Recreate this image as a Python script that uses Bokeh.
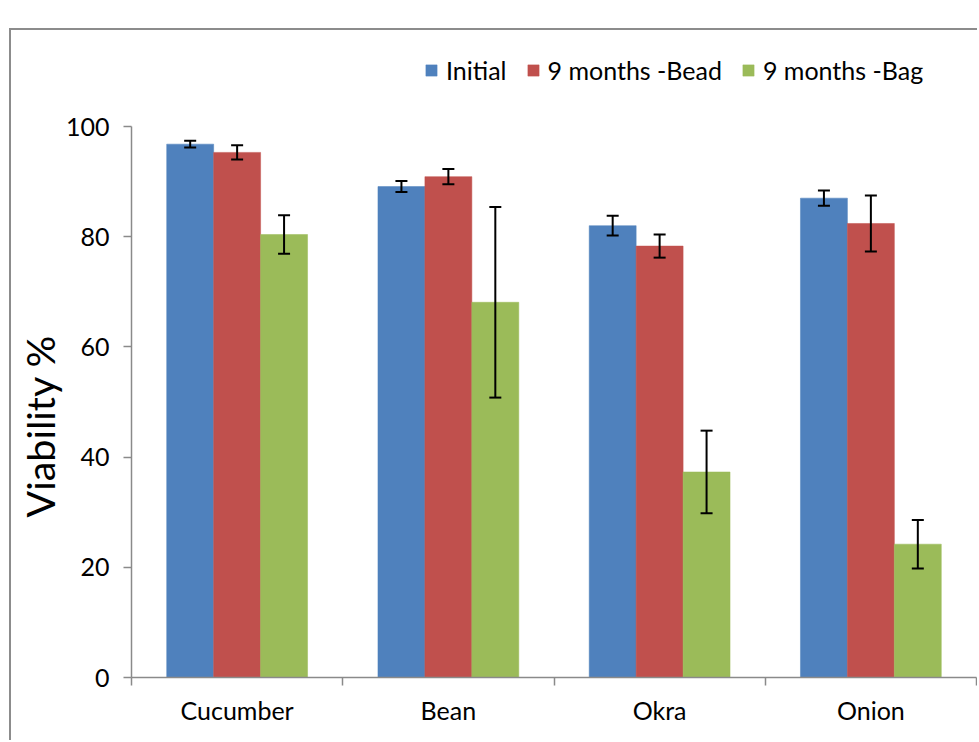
from bokeh.plotting import figure
from bokeh.models import (ColumnDataSource, Range1d, FixedTicker, Whisker, TeeHead, Title)
from bokeh.embed import file_html
from bokeh.resources import INLINE

categories = ["Cucumber", "Bean", "Okra", "Onion"]
series_names = ["Initial", "9 months -Bead", "9 months -Bag"]
initial = [96.8, 89.1, 82.0, 87.0]
initial_err = [0.6, 1.0, 1.8, 1.4]
bead = [95.3, 90.9, 78.3, 82.4]
bead_err = [1.3, 1.4, 2.1, 5.1]
bag = [80.4, 68.1, 37.3, 24.2]
bag_err = [3.5, 17.3, 7.5, 4.4]
y_ticks = [0, 20, 40, 60, 80, 100]
y_title = "Viability %"

colors = ["#4F81BD", "#C0504D", "#9BBB59"]
FONT = "Lato"
BAR_W = 1 / 4.5

# frame extends above the 100 line to host the legend (Excel's legend area)
FRAME_TOP = 10
AXIS_PX = 551          # pixels between 0 and 100
FRAME_H = 647 - FRAME_TOP
y_end = 100 * FRAME_H / AXIS_PX

p = figure(width=968, height=712, output_backend="svg", toolbar_location=None,
           x_range=Range1d(0, len(categories)), y_range=Range1d(0, y_end),
           min_border_left=120, min_border_right=3, min_border_top=FRAME_TOP,
           min_border_bottom=65,
           background_fill_color="white", border_fill_color="white",
           styles={"margin-left": "9px", "margin-top": "28px",
                   "border-left": "2px solid #8c8c8c", "border-top": "2px solid #8c8c8c"})
p.outline_line_color = None
p.xgrid.visible = False
p.ygrid.visible = False

all_vals = [initial, bead, bag]
all_errs = [initial_err, bead_err, bag_err]
for k, (vals, errs, name, col) in enumerate(zip(all_vals, all_errs, series_names, colors)):
    xs = [i + 0.5 + (k - 1) * BAR_W for i in range(len(categories))]
    src = ColumnDataSource(dict(x=xs, top=vals,
                                upper=[v + e for v, e in zip(vals, errs)],
                                lower=[v - e for v, e in zip(vals, errs)]))
    p.vbar(x="x", top="top", width=BAR_W, bottom=0, source=src, fill_color=col,
           line_color=col, line_width=0.5, legend_label=name)
    w = Whisker(base="x", upper="upper", lower="lower", source=src, line_color="black",
                line_width=2, level="overlay",
                upper_head=TeeHead(size=12, line_width=2, line_color="black"),
                lower_head=TeeHead(size=12, line_width=2, line_color="black"))
    p.add_layout(w)

# x axis
centers = [i + 0.5 for i in range(len(categories))]
p.xaxis.ticker = FixedTicker(ticks=centers, minor_ticks=list(range(len(categories) + 1)))
p.xaxis.major_label_overrides = {c: lab for c, lab in zip(centers, categories)}
p.xaxis.major_tick_out = 0
p.xaxis.major_tick_in = 0
p.xaxis.minor_tick_out = 8
p.xaxis.minor_tick_in = 0
p.xaxis.major_label_standoff = 9

# y axis
p.yaxis.ticker = FixedTicker(ticks=y_ticks, minor_ticks=[])
p.yaxis.bounds = (y_ticks[0], y_ticks[-1])
p.yaxis.major_tick_out = 8
p.yaxis.major_tick_in = 0
p.yaxis.major_label_standoff = 14

for ax in (p.xaxis[0], p.yaxis[0]):
    ax.axis_line_color = "#8a8a8a"
    ax.axis_line_width = 1.5
    ax.major_tick_line_color = "#8a8a8a"
    ax.major_tick_line_width = 1.5
    ax.minor_tick_line_width = 1.5
    ax.major_label_text_font = FONT
    ax.major_label_text_font_size = "25px"
    ax.major_label_text_color = "black"
p.xaxis.minor_tick_line_color = "#8a8a8a"
p.yaxis.minor_tick_line_color = None

# y axis title (Excel places it a little below the frame centre)
p.add_layout(Title(text=y_title, align="left", offset=160, standoff=0,
                   text_font=FONT, text_font_size="39.5px", text_font_style="normal",
                   text_color="black"), "left")

lg = p.legend[0]
lg.orientation = "horizontal"
lg.location = (293, AXIS_PX + 41)
lg.border_line_color = None
lg.background_fill_alpha = 0
lg.padding = 0
lg.margin = 0
lg.spacing = 19
lg.glyph_width = 14
lg.glyph_height = 14
lg.label_standoff = 8
lg.label_text_font = FONT
lg.label_text_font_size = "25px"
lg.label_text_color = "black"

open("out.html", "w").write(file_html(p, INLINE))
